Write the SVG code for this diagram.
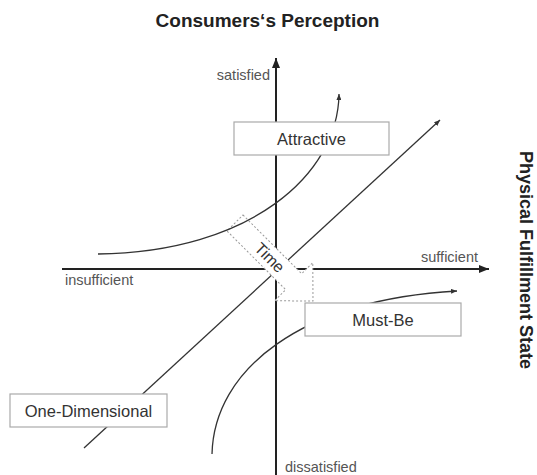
<svg xmlns="http://www.w3.org/2000/svg" width="537" height="475" viewBox="0 0 537 475">
<style>
.title{font-family:"Liberation Sans",Arial,sans-serif;font-weight:bold;font-size:19px;fill:#222}
.side{font-family:"Liberation Sans",Arial,sans-serif;font-weight:bold;font-size:18px;fill:#222}
.ax{font-family:"Liberation Sans",Arial,sans-serif;font-size:14.5px;fill:#555}
.lbl{font-family:"Liberation Sans",Arial,sans-serif;font-size:16.5px;fill:#333}
.tt{font-family:"Liberation Sans",Arial,sans-serif;font-size:16px;fill:#333}
.axis{stroke:#222;stroke-width:2;fill:none}
.crv{stroke:#333;stroke-width:1.3;fill:none}
.box{fill:#fff;stroke:#aaa;stroke-width:1.2}
.time{fill:#fff;stroke:#999;stroke-width:1;stroke-dasharray:2 2}
</style>
<defs>
<marker id="ah" markerUnits="userSpaceOnUse" markerWidth="10" markerHeight="8" viewBox="0 0 10 8" refX="10" refY="4" orient="auto">
<path d="M0,0 L10,4 L0,8 Z" fill="#222"/>
</marker>
<marker id="sh" markerUnits="userSpaceOnUse" markerWidth="6" markerHeight="5" viewBox="0 0 6 5" refX="6" refY="2.5" orient="auto">
<path d="M0,0 L6,2.5 L0,5 Z" fill="#333"/>
</marker>
</defs>
<rect width="537" height="475" fill="#fff"/>
<text class="title" x="267.5" y="27" text-anchor="middle">Consumers‘s Perception</text>
<text class="side" transform="translate(520,260) rotate(90)" text-anchor="middle">Physical Fulfillment State</text>
<g id="connectors">
<line class="axis" x1="276" y1="475" x2="276" y2="58" marker-end="url(#ah)"/>
<line class="axis" x1="62" y1="269" x2="489" y2="269" marker-end="url(#ah)"/>
<line class="crv" x1="84" y1="448" x2="440" y2="120" marker-end="url(#sh)"/>
</g>
<g id="time">
<g transform="translate(235,223) rotate(45)">
<path class="time" d="M0,-11.3 L83,-11.3 L83,-27 L110.3,0 L83,27 L83,11.3 L0,11.3 Z"/>
<text class="tt" x="49" y="5.5" text-anchor="middle">Time</text>
</g>
</g>
<g id="curves">
<path class="crv" d="M98,254 C250,252 338,175 339,94" marker-end="url(#sh)"/>
<path class="crv" d="M212,454 C214,370 300,300 457,291" marker-end="url(#sh)"/>
</g>
<g id="axis-labels">
<text class="ax" x="270" y="80" text-anchor="end">satisfied</text>
<text class="ax" x="478" y="262" text-anchor="end">sufficient</text>
<text class="ax" x="65" y="285">insufficient</text>
<text class="ax" x="285" y="472">dissatisfied</text>
</g>
<g id="attractive">
<rect class="box" x="234" y="122" width="155" height="33"/>
<text class="lbl" x="311.5" y="144.5" text-anchor="middle">Attractive</text>
</g>
<g id="must-be">
<rect class="box" x="305" y="303" width="156" height="33"/>
<text class="lbl" x="383" y="325.5" text-anchor="middle">Must-Be</text>
</g>
<g id="one-dimensional">
<rect class="box" x="10" y="394" width="157" height="33"/>
<text class="lbl" x="88.5" y="416.5" text-anchor="middle">One-Dimensional</text>
</g>
</svg>
